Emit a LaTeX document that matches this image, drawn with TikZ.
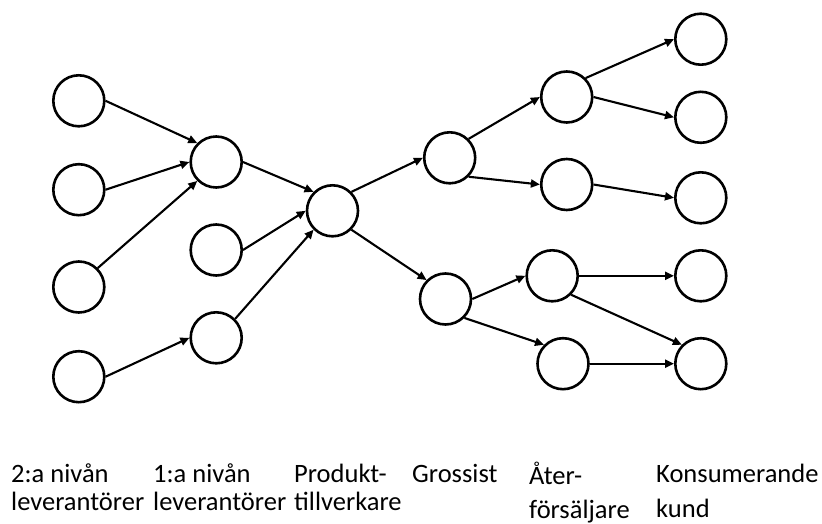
\documentclass[tikz,border=0pt]{standalone}
\usepackage{fontspec}
\setmainfont{Carlito}
\usetikzlibrary{arrows.meta}
\begin{document}
\begin{tikzpicture}[x=1pt,y=-1pt,
  actor/.style={circle,draw=black,line width=2.6pt,minimum size=51pt,inner sep=0pt},
  flow/.style={draw=black,line width=2.1pt,-{Triangle[length=9pt,width=8pt]}},
  tier/.style={anchor=base west,inner sep=0pt,align=left,
               font=\fontsize{26.5}{28}\selectfont}]
\useasboundingbox[fill=white] (0,0) rectangle (822,524);

% 2nd-tier suppliers
\node[actor] (s1) at (78.8,100.8) {};
\node[actor] (s2) at (78.8,189.7) {};
\node[actor] (s3) at (78.8,287.0) {};
\node[actor] (s4) at (78.8,376.7) {};
% 1st-tier suppliers
\node[actor] (f1) at (216.2,162.0) {};
\node[actor] (f2) at (216.2,250.0) {};
\node[actor] (f3) at (216.2,337.8) {};
% manufacturer
\node[actor] (m) at (332.5,210.8) {};
% wholesalers
\node[actor] (w1) at (449.7,157.8) {};
\node[actor] (w2) at (445.5,299.0) {};
% retailers
\node[actor] (r1) at (566.7,97.0) {};
\node[actor] (r2) at (566.7,184.5) {};
\node[actor] (r3) at (552.2,275.8) {};
\node[actor] (r4) at (563.0,363.7) {};
% consumers
\node[actor] (k1) at (700.8,39.2) {};
\node[actor] (k2) at (700.8,117.3) {};
\node[actor] (k3) at (700.8,197.8) {};
\node[actor] (k4) at (700.8,275.8) {};
\node[actor] (k5) at (700.8,363.7) {};

% supply flows
\draw[flow] (s1.east) -- (f1.north west);
\draw[flow] (s2.east) -- (f1.west);
\draw[flow] (s3.north east) -- (f1.south west);
\draw[flow] (s4.east) -- (f3.west);
\draw[flow] (f1.east) -- (m.north west);
\draw[flow] (f2.east) -- (m.west);
\draw[flow] (f3.north east) -- (m.south west);
\draw[flow] (m.north east) -- (w1.west);
\draw[flow] (m.south east) -- (w2.north west);
\draw[flow] (w1.north east) -- (r1.west);
\draw[flow] (w1.south east) -- (r2.west);
\draw[flow] (w2.east) -- (r3.west);
\draw[flow] (w2.south east) -- (r4.north west);
\draw[flow] (r1.north east) -- (k1.west);
\draw[flow] (r1.east) -- (k2.west);
\draw[flow] (r2.east) -- (k3.west);
\draw[flow] (r3.east) -- (k4.west);
\draw[flow] (r3.south east) -- (k5.north west);
\draw[flow] (r4.east) -- (k5.west);

% tier labels (anchored on the baseline of their last line)
\node[tier] (t1) at (11,510) {2:a nivån\\leverantörer};
\node[tier] (t2) at (153,510) {1:a nivån\\leverantörer};
\node[tier] (t3) at (294,510) {Produkt-\\tillverkare};
\node[tier] (t4) at (412,482) {Grossist};
\node[tier,font=\fontsize{26.5}{34}\selectfont] (t5) at (529,518) {Åter-\\försäljare};
\node[tier,font=\fontsize{26.5}{35}\selectfont] (t6) at (656,517) {Konsumerande\\kund};
\end{tikzpicture}
\end{document}
